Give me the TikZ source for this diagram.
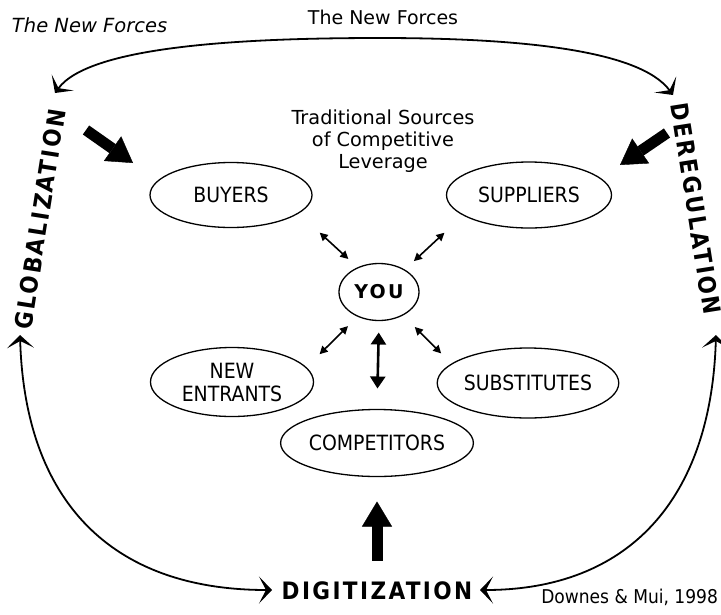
\documentclass[tikz,border=0pt]{standalone}
\usepackage{fontspec}
\setmainfont{DejaVu Sans}
\newfontfamily\narrowfont{DejaVu Sans Condensed}
\newfontfamily\forcefont[LetterSpace=10]{DejaVu Sans Condensed Bold}
\newfontfamily\youfont[LetterSpace=12]{DejaVu Sans Bold}
\usetikzlibrary{arrows.meta,shapes.geometric}

\begin{document}
\begin{tikzpicture}[x=1pt,y=-1pt,
    every node/.style={inner sep=0pt,outer sep=0pt},
    rival/.style={ellipse,draw,line width=1.3pt,align=center,
      font=\narrowfont\fontsize{21}{23}\selectfont},
    newforce/.style={font=\forcefont\fontsize{24}{26}\selectfont},
    ring/.style={line width=1.8pt,
      {Stealth[length=13pt,width=27pt,inset=7pt,line width=2.6pt]}-{Stealth[length=13pt,width=27pt,inset=7pt,line width=2.6pt]}},
    link/.style={line width=1.6pt,{Triangle[length=8pt,width=8pt]}-{Triangle[length=8pt,width=8pt]}},
    biglink/.style={line width=2.6pt,{Triangle[length=12pt,width=15pt]}-{Triangle[length=12pt,width=15pt]}},
    push/.style={line width=11pt,-{Triangle[length=25pt,width=30pt,line width=0.4pt]}}]
  \useasboundingbox[fill=white] (0,0) rectangle (721,614);

  % five forces round you
  \node[rival,minimum width=80pt,minimum height=57pt,
    font=\youfont\fontsize{19}{21}\selectfont] (you) at (379,292) {YOU};
  \node[rival,minimum width=162pt,minimum height=65pt] (buyers) at (231,195) {BUYERS};
  \node[rival,minimum width=165pt,minimum height=66pt] (suppliers) at (529,195) {SUPPLIERS};
  \node[rival,minimum width=163pt,minimum height=69pt] (entrants) at (232,382) {NEW\\ENTRANTS};
  \node[rival,minimum width=165pt,minimum height=70pt] (substitutes) at (528,383) {SUBSTITUTES};
  \node[rival,minimum width=163pt,minimum height=67pt] (competitors) at (377,443) {COMPETITORS};

  \node[font=\fontsize{19.3}{22}\selectfont,align=center] (sources) at (383,141)
    {Traditional Sources\\of Competitive\\Leverage};

  \draw[link,shorten <=13pt,shorten >=29pt] (you.131) -- (buyers.345);
  \draw[link,shorten <=13pt,shorten >=26pt] (you.41) -- (suppliers.197);
  \draw[link,shorten <=14pt,shorten >=19pt] (you.229) -- (entrants.11);
  \draw[link,shorten <=17pt,shorten >=15pt] (you.316) -- (substitutes.166);
  \draw[biglink,shorten <=12pt,shorten >=21pt] (you.south) -- (competitors.north);

  % the new forces
  \node[newforce,rotate=81] (glob) at (40,219) {GLOBALIZATION};
  \node[newforce,rotate=-81] (dereg) at (696,209) {DEREGULATION};
  \node[newforce] (digit) at (377,591) {DIGITIZATION};

  \node[font=\itshape\fontsize{19.5}{22}\selectfont,anchor=west] (title) at (12,25) {The New Forces};
  \node[font=\fontsize{19}{21}\selectfont] (arclabel) at (383,17) {The New Forces};
  \node[font=\narrowfont\fontsize{19}{21}\selectfont,anchor=east] (cite) at (718,597) {Downes \& Mui, 1998};

  \coordinate (g-top) at (55,93);
  \coordinate (arc-top) at (380,38);
  \coordinate (d-top) at (673,95);
  \coordinate (g-foot) at (20,335);
  \coordinate (d-foot) at (716,335);
  \coordinate (dg-left) at (272,590);
  \coordinate (dg-right) at (480,590);

  \draw[ring] (g-top) .. controls (90,45) and (250,38) .. (arc-top)
    .. controls (520,38) and (640,50) .. (d-top);
  \draw[ring] (g-foot) .. controls (25,500) and (110,590) .. (dg-left);
  \draw[ring] (d-foot) .. controls (711,500) and (628,590) .. (dg-right);

  % pressure on the traditional forces
  \coordinate (g-tail) at (86,130);
  \coordinate (g-tip) at (133,163);
  \coordinate (d-tail) at (667,133);
  \coordinate (d-tip) at (620,165);
  \draw[push] (g-tail) -- (g-tip);
  \draw[push] (d-tail) -- (d-tip);
  \draw[push,shorten <=21pt,shorten >=25pt] (digit.north) -- (competitors.south);
\end{tikzpicture}
\end{document}
